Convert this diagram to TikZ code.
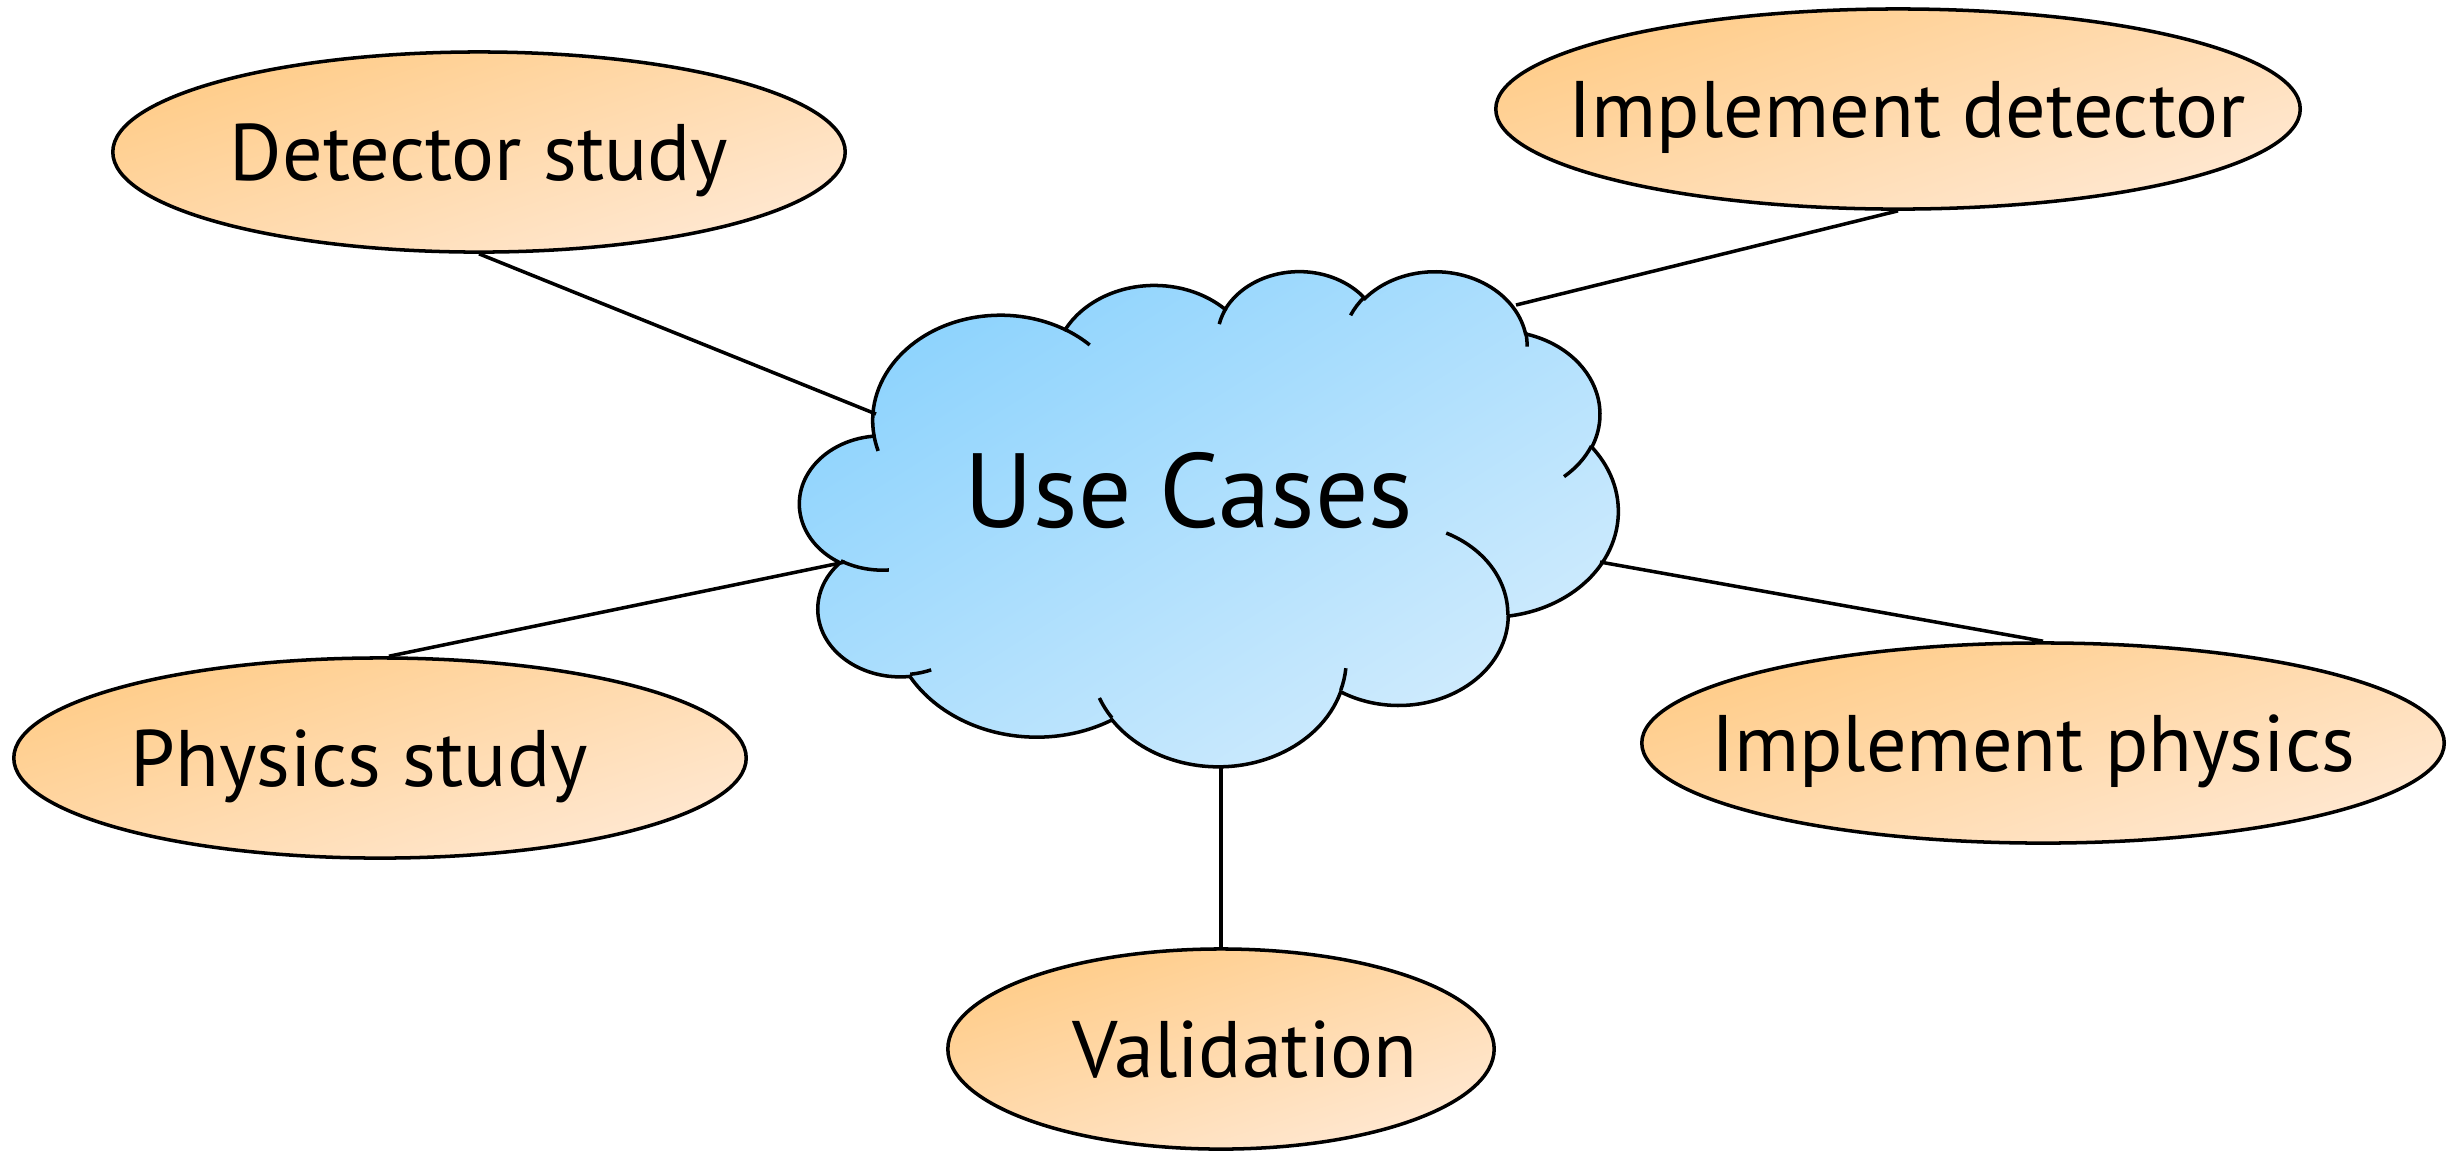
\documentclass[tikz,border=0pt]{standalone}
\usepackage{fontspec}
\setmainfont{PT Sans}
\usetikzlibrary{shapes.geometric}
\definecolor{ucorange}{HTML}{FFCC88}
\definecolor{ucpeach}{HTML}{FFE8D2}
\definecolor{cloudblue}{HTML}{8DD3FD}
\definecolor{cloudpale}{HTML}{D2ECFD}
\newcommand{\uctext}[2][0pt]{\makebox[0pt]{\hspace*{#1}#2}}
\tikzset{
  usecase/.style={ellipse, draw, line width=1pt, inner sep=0pt, minimum height=2cm,
    top color=ucorange, bottom color=ucpeach, shading angle=18,
    font=\fontsize{22.8}{27}\selectfont, text height=0.56cm, text depth=0pt},
  cloudpath/.style={draw, line width=1pt, top color=cloudblue, bottom color=cloudpale, shading angle=32},
  cloudhook/.style={draw, line width=1pt},
  link/.style={draw, line width=1pt},
  % one puff of the cloud: x radius, y radius, start and sweep angle (seen, not parametric)
  puff/.code n args={4}{%
    \pgfmathsetmacro\puffs{atan2(#1*sin(#3),#2*cos(#3))}%
    \pgfmathsetmacro\puffe{atan2(#1*sin(#3+#4),#2*cos(#3+#4))}%
    \pgfmathsetmacro\puffd{mod(\puffe-\puffs+720,360)}%
    \pgfkeysalso{start angle=\puffs, delta angle=\puffd, x radius=#1, y radius=#2}},
}
\begin{document}
\begin{tikzpicture}[x=0.01cm, y=-0.01cm]
    \useasboundingbox (0,0) rectangle (2458,1150);
    % the cloud
    \begin{scope}[shift={(800,270)}, xscale=1.8935, yscale=1.1458]
        \path[cloudpath] (39,143.7)
            arc[puff={67.53}{91.90}{-190.4875}{123.7805}]
            arc[puff={53.33}{72.67}{-144.1024}{89.9452}]
            arc[puff={43.65}{59.45}{-145.8079}{99.7230}]
            arc[puff={48.57}{65.95}{-130.9861}{117.2417}]
            arc[puff={53.33}{72.73}{-78.7089}{109.0269}]
            arc[puff={67.75}{92.20}{-46.2673}{130.2690}]
            arc[puff={57.85}{78.67}{0.6250}{114.0333}]
            arc[puff={67.52}{92.15}{22.4516}{115.1726}]
            arc[puff={77.20}{105.43}{66.2426}{75.7110}]
            arc[puff={43.60}{59.18}{-274.9421}{146.7356}]
            arc[puff={43.45}{59.45}{-246.8285}{152.5189}] -- cycle;
        \foreach \x/\y/\a/\b/\s/\d in {46.93/261.77/43.45/59.45/86.742/26.4295,
                69.28/348.99/43.60/59.18/73.6105/11.4475,
                164.78/390.90/67.52/92.15/137.6242/14.0811,
                288.27/347.51/67.52/92.15/6.4533/15.9984,
                341.29/229.54/57.85/78.67/-70.2924/70.9174,
                417.98/153.54/53.33/72.73/30.3180/27.7515,
                383.24/54.26/48.57/65.95/-13.7443/14.8589,
                290.78/39.52/48.57/65.95/-149.1815/18.1954,
                221.41/47.20/43.65/59.45/-163.4943/17.6864,
                140.00/51.92/67.53/91.90/-66.7070/12.3194,
                41.27/157.89/67.53/91.90/157.6544/11.8582}
            \path[cloudhook] (\x,\y) arc[puff={\a}{\b}{\s}{\d}];
    \end{scope}
    \node[font=\fontsize{30}{36}\selectfont, text height=0.72cm, text depth=0pt] (uc) at (1189,491) {Use Cases};
    \coordinate (c1) at (876,414);
    \coordinate (c2) at (1516,305);
    \coordinate (c3) at (845,562);
    \coordinate (c4) at (1600,562);
    \coordinate (c5) at (1221,766);

    \node[usecase, minimum width=7.32cm] (det) at (479,152) {\uctext{Detector study}};
    \node[usecase, minimum width=8.04cm] (impdet) at (1898,109) {\uctext[0.18cm]{Implement detector}};
    \node[usecase, minimum width=7.32cm] (phys) at (380,758) {\uctext[-0.42cm]{Physics study}};
    \node[usecase, minimum width=8.02cm] (impphys) at (2043,743) {\uctext[-0.2cm]{Implement physics}};
    \node[usecase, minimum width=5.46cm] (valid) at (1221,1049) {\uctext[0.48cm]{Validation}};

    \draw[link] (det.south) -- (c1);
    \draw[link] (impdet.south) -- (c2);
    \draw[link] (phys.85) -- (c3);
    \draw[link] (impphys.north) -- (c4);
    \draw[link] (valid.north) -- (c5);
\end{tikzpicture}
\end{document}
